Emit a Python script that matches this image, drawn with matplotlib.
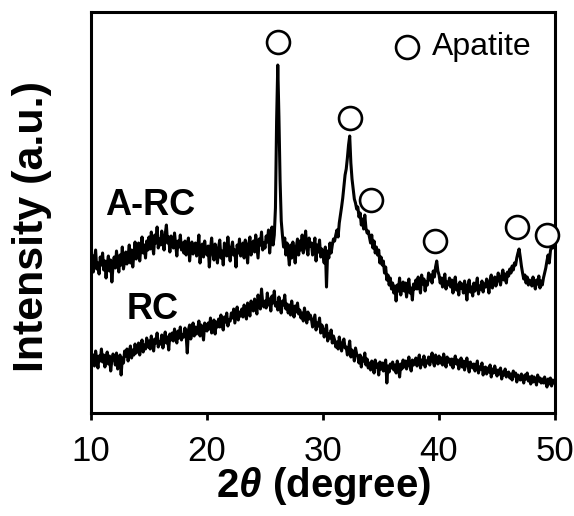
import numpy as np
import matplotlib
matplotlib.use("Agg")
import matplotlib.pyplot as plt

plt.rcParams['font.family'] = ['Liberation Sans', 'DejaVu Sans']
plt.rcParams['mathtext.fontset'] = 'custom'
plt.rcParams['mathtext.it'] = 'Liberation Sans:bold:italic'
plt.rcParams['mathtext.rm'] = 'Liberation Sans:bold'
plt.rcParams['mathtext.bf'] = 'Liberation Sans:bold'

# 2theta scan, 10-50 deg, 0.1 deg step
two_theta = np.round(np.linspace(10, 50, 401), 1)

# A-RC intensity (a.u.), one row per degree
arc = [
    146, 158, 141, 152, 163, 144, 150, 139, 156, 148,  # 10
    160, 143, 152, 135, 149, 157, 142, 153, 131, 147,  # 11
    156, 145, 162, 150, 141, 158, 148, 166, 144, 152,  # 12
    161, 149, 157, 168, 150, 163, 146, 159, 171, 154,  # 13
    158, 170, 152, 165, 176, 160, 168, 155, 172, 163,  # 14
    176, 164, 181, 168, 159, 178, 170, 186, 165, 174,  # 15
    168, 182, 171, 163, 179, 188, 170, 176, 161, 177,  # 16
    174, 165, 180, 169, 157, 172, 166, 178, 163, 170,  # 17
    160, 172, 158, 168, 175, 152, 166, 171, 159, 167,  # 18
    170, 157, 165, 178, 150, 163, 169, 156, 172, 161,  # 19
    158, 167, 146, 164, 175, 160, 153, 169, 161, 150,  # 20
    166, 173, 155, 162, 148, 170, 164, 157, 176, 160,  # 21
    152, 165, 171, 158, 163, 146, 168, 160, 174, 157,  # 22
    162, 170, 155, 173, 166, 150, 169, 176, 158, 167,  # 23
    172, 161, 178, 166, 155, 174, 168, 181, 163, 170,  # 24
    165, 177, 171, 183, 160, 175, 186, 168, 178, 205,  # 25
    292, 348, 296, 232, 192, 178, 166, 175, 158, 170,  # 26
    160, 148, 168, 155, 171, 162, 150, 166, 174, 158,  # 27
    172, 163, 178, 160, 169, 182, 165, 158, 175, 167,  # 28
    170, 158, 166, 175, 152, 168, 161, 173, 156, 164,  # 29
    158, 150, 166, 126, 162, 155, 170, 160, 168, 174,  # 30
    172, 178, 183, 176, 190, 198, 206, 215, 226, 238,  # 31
    244, 255, 268, 277, 250, 234, 224, 214, 210, 204,  # 32
    206, 196, 200, 188, 194, 184, 198, 185, 180, 182,  # 33
    176, 170, 178, 165, 172, 160, 166, 158, 163, 150,  # 34
    156, 148, 152, 140, 146, 133, 138, 128, 135, 124,  # 35
    130, 120, 127, 112, 128, 122, 135, 118, 126, 131,  # 36
    122, 130, 116, 127, 134, 120, 125, 113, 129, 124,  # 37
    133, 124, 136, 127, 120, 138, 129, 134, 122, 131,  # 38
    128, 140, 133, 138, 130, 142, 136, 146, 152, 142,  # 39
    138, 130, 135, 126, 133, 139, 124, 131, 128, 135,  # 40
    126, 133, 120, 130, 136, 123, 128, 118, 131, 125,  # 41
    129, 120, 132, 124, 113, 128, 133, 121, 126, 117,  # 42
    130, 122, 128, 135, 119, 127, 124, 132, 121, 129,  # 43
    126, 134, 128, 120, 133, 138, 125, 131, 136, 127,  # 44
    132, 140, 134, 128, 137, 143, 133, 139, 130, 141,  # 45
    137, 144, 140, 147, 143, 150, 148, 155, 160, 164,  # 46
    156, 147, 140, 134, 138, 130, 136, 128, 133, 131,  # 47
    127, 136, 130, 124, 133, 129, 137, 125, 132, 128,  # 48
    135, 140, 145, 152, 158, 150, 162, 168, 165, 172,  # 49
    178,                                               # 50
]

# RC intensity (a.u.)
rc = [
    60, 50, 58, 47, 62, 54, 45, 57, 52, 64,  # 10
    51, 58, 46, 55, 61, 49, 57, 42, 53, 59,  # 11
    56, 48, 60, 44, 53, 58, 38, 55, 50, 62,  # 12
    57, 64, 52, 61, 67, 55, 63, 58, 69, 60,  # 13
    62, 70, 58, 67, 73, 61, 68, 64, 75, 66,  # 14
    72, 64, 77, 68, 62, 74, 70, 80, 66, 71,  # 15
    69, 78, 65, 74, 81, 70, 76, 63, 79, 73,  # 16
    80, 72, 84, 76, 70, 82, 75, 86, 73, 78,  # 17
    76, 85, 78, 60, 83, 88, 74, 81, 90, 77,  # 18
    86, 79, 84, 92, 77, 88, 82, 73, 90, 85,  # 19
    82, 90, 84, 95, 80, 88, 93, 79, 91, 86,  # 20
    94, 86, 98, 89, 83, 96, 91, 100, 87, 93,  # 21
    92, 100, 95, 104, 90, 98, 106, 93, 101, 97,  # 22
    104, 96, 108, 100, 94, 110, 102, 97, 112, 105,  # 23
    102, 114, 106, 99, 118, 108, 104, 124, 110, 106,  # 24
    112, 105, 120, 108, 114, 102, 117, 110, 122, 107,  # 25
    110, 103, 116, 106, 100, 112, 108, 118, 104, 109,  # 26
    100, 108, 98, 112, 103, 96, 107, 101, 110, 99,  # 27
    103, 95, 100, 92, 105, 97, 90, 101, 94, 98,  # 28
    94, 86, 92, 98, 83, 90, 87, 95, 80, 88,  # 29
    84, 76, 81, 88, 72, 79, 75, 83, 70, 77,  # 30
    73, 66, 71, 64, 76, 68, 62, 70, 74, 65,  # 31
    66, 58, 64, 72, 56, 63, 60, 52, 65, 59,  # 32
    57, 50, 58, 46, 55, 52, 60, 48, 54, 45,  # 33
    50, 43, 52, 47, 40, 53, 46, 49, 38, 51,  # 34
    44, 50, 42, 48, 53, 30, 47, 41, 49, 45,  # 35
    51, 43, 48, 40, 52, 46, 36, 49, 44, 53,  # 36
    46, 52, 44, 50, 56, 47, 42, 53, 48, 51,  # 37
    55, 47, 52, 58, 45, 53, 49, 57, 46, 52,  # 38
    50, 56, 48, 55, 60, 51, 47, 58, 53, 49,  # 39
    57, 50, 55, 48, 59, 52, 46, 56, 51, 54,  # 40
    48, 54, 45, 52, 57, 49, 53, 44, 50, 55,  # 41
    46, 52, 43, 50, 55, 47, 41, 51, 48, 45,  # 42
    49, 42, 47, 52, 40, 46, 44, 50, 38, 45,  # 43
    46, 39, 45, 41, 48, 36, 44, 40, 47, 42,  # 44
    37, 43, 39, 45, 34, 41, 38, 44, 36, 40,  # 45
    41, 35, 39, 33, 42, 37, 40, 31, 38, 36,  # 46
    33, 39, 35, 30, 38, 34, 40, 32, 36, 29,  # 47
    37, 31, 36, 33, 28, 38, 32, 35, 30, 34,  # 48
    30, 36, 31, 26, 34, 29, 35, 27, 33, 30,  # 49
    32,                                      # 50
]

# apatite reflections marked with open circles (position, marker height)
apatite_x = [26.1, 32.3, 34.1, 39.65, 46.7, 49.3]
apatite_y = [371, 295, 213, 172, 186, 178]

fig = plt.figure(figsize=(5.74, 5.16), dpi=100)
ax = fig.add_axes([0.1585, 0.1996, 0.8085, 0.7771])

ax.plot(two_theta, arc, color='black', lw=2.2)
ax.plot(two_theta, rc, color='black', lw=2.2)

ax.plot(apatite_x, apatite_y, 'o', ms=16.5, mfc='white', mec='black', mew=1.9,
        clip_on=False, zorder=5)

# legend entry
ax.plot([37.2], [366], 'o', ms=16.5, mfc='white', mec='black', mew=1.9)
ax.text(39.4, 366, 'Apatite', fontsize=23, va='center', ha='left')

ax.text(11.2, 198, 'A-RC', fontsize=26, fontweight='bold')
ax.text(13.1, 94, 'RC', fontsize=26, fontweight='bold')

ax.set_xlim(10, 50)
ax.set_ylim(0, 401)
ax.set_xticks([10, 20, 30, 40, 50])
ax.set_yticks([])
ax.tick_params(axis='x', direction='out', length=5, width=2, labelsize=25, pad=11)
for s in ax.spines.values():
    s.set_linewidth(2.2)

ax.set_xlabel(r'2$\theta$ (degree)', fontsize=29, fontweight='bold')
ax.xaxis.set_label_coords(0.502, -0.13)
ax.set_ylabel('Intensity (a.u.)', fontsize=31, fontweight='bold')
ax.yaxis.set_label_coords(-0.084, 0.466)

fig.savefig('out.png', dpi=100)
